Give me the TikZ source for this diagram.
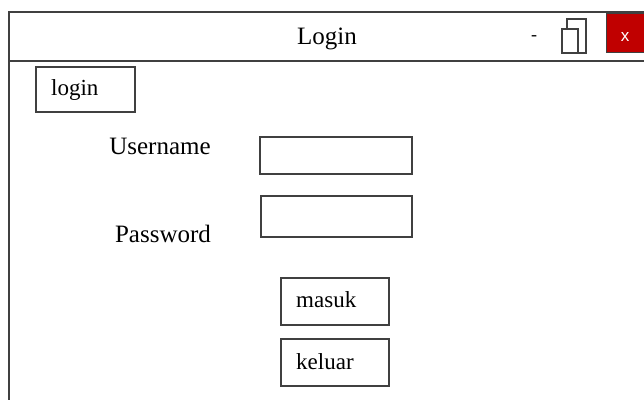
\documentclass[tikz,border=0pt]{standalone}
\usepackage{fontspec}
\setmainfont{Liberation Serif}
\setsansfont{Liberation Sans}
\definecolor{closered}{HTML}{C00000}
\definecolor{frame}{HTML}{404040}
\tikzset{
  lbl/.style={font=\fontsize{25}{27}\selectfont, inner sep=0pt},
  btntext/.style={font=\fontsize{23}{25}\selectfont, inner sep=0pt, anchor=west},
  boxnode/.style={draw=frame, line width=1.6pt, anchor=north west, inner sep=0pt},
}
\begin{document}
\begin{tikzpicture}[x=1pt,y=-1pt]
\useasboundingbox (0,0) rectangle (644,399);
\begin{scope}
\clip (0,0) rectangle (644,399);
% window frame
\coordinate (bl) at (9,402);
\coordinate (tl) at (9,12);
\coordinate (tr) at (650,12);
\coordinate (sl) at (9,61);
\coordinate (sr) at (650,61);
\draw[frame, line width=2pt] (bl) -- (tl) -- (tr);
\draw[frame, line width=2pt] (sl) -- (sr);
% close button
\node[boxnode, fill=closered, line width=1pt, minimum width=44pt, minimum height=39pt] (close) at (606,13) {};
\node[font=\sffamily\fontsize{17}{19}\selectfont, text=white, inner sep=0pt] (closex) at (625,37) {x};
% restore icon
\node[boxnode, minimum width=19pt, minimum height=34pt] (back) at (566,18) {};
\node[boxnode, fill=white, minimum width=16pt, minimum height=24pt] (front) at (561,28) {};
\node[font=\fontsize{18}{20}\selectfont, inner sep=0pt] (minus) at (534,38) {-};
\end{scope}
% title
\node[lbl] (title) at (327,39) {Login};
% login tab button
\node[boxnode, minimum width=99pt, minimum height=45pt] (loginbox) at (35,66) {};
\node[btntext] (logintext) at (51,90) {login};
% labels
\node[lbl] (user) at (160,146) {Username};
\node[lbl] (pass) at (163,234) {Password};
% fields
\node[boxnode, minimum width=152pt, minimum height=37pt] (userfield) at (259,136) {};
\node[boxnode, minimum width=151pt, minimum height=41pt] (passfield) at (260,195) {};
% buttons
\node[boxnode, minimum width=108pt, minimum height=47pt] (masuk) at (280,277) {};
\node[btntext] (masuktext) at (296,300) {masuk};
\node[boxnode, minimum width=108pt, minimum height=47pt] (keluar) at (280,338) {};
\node[btntext] (keluartext) at (296,362) {keluar};
\end{tikzpicture}
\end{document}
